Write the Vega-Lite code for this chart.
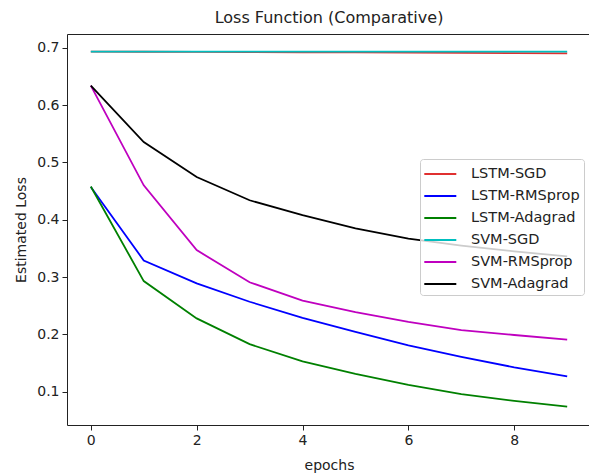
{
  "$schema": "https://vega.github.io/schema/vega-lite/v6.json",
  "width": 524,
  "height": 391,
  "autosize": {"type": "none"},
  "padding": {"left": 67, "top": 34, "right": -2, "bottom": 49},
  "background": "white",
  "config": {
    "font": "DejaVu Sans",
    "view": {"stroke": "#222222", "strokeWidth": 1},
    "axis": {
      "grid": false,
      "domain": false,
      "tickColor": "#222222",
      "labelColor": "#222222",
      "titleColor": "#222222",
      "labelFontSize": 14,
      "titleFontSize": 14,
      "titleFontWeight": "normal",
      "tickSize": 5,
      "labelPadding": 3
    }
  },
  "title": {
    "text": "Loss Function (Comparative)",
    "fontSize": 16,
    "fontWeight": "normal",
    "color": "#222222",
    "offset": 8,
    "anchor": "middle"
  },
  "data": {
    "values": [
      {"model": "LSTM-SGD", "epoch": 0, "loss": 0.6932},
      {"model": "LSTM-SGD", "epoch": 1, "loss": 0.6930},
      {"model": "LSTM-SGD", "epoch": 2, "loss": 0.6928},
      {"model": "LSTM-SGD", "epoch": 3, "loss": 0.6925},
      {"model": "LSTM-SGD", "epoch": 4, "loss": 0.6922},
      {"model": "LSTM-SGD", "epoch": 5, "loss": 0.6918},
      {"model": "LSTM-SGD", "epoch": 6, "loss": 0.6914},
      {"model": "LSTM-SGD", "epoch": 7, "loss": 0.6910},
      {"model": "LSTM-SGD", "epoch": 8, "loss": 0.6906},
      {"model": "LSTM-SGD", "epoch": 9, "loss": 0.6901},
      {"model": "LSTM-RMSprop", "epoch": 0, "loss": 0.457},
      {"model": "LSTM-RMSprop", "epoch": 1, "loss": 0.329},
      {"model": "LSTM-RMSprop", "epoch": 2, "loss": 0.289},
      {"model": "LSTM-RMSprop", "epoch": 3, "loss": 0.257},
      {"model": "LSTM-RMSprop", "epoch": 4, "loss": 0.229},
      {"model": "LSTM-RMSprop", "epoch": 5, "loss": 0.2045},
      {"model": "LSTM-RMSprop", "epoch": 6, "loss": 0.181},
      {"model": "LSTM-RMSprop", "epoch": 7, "loss": 0.161},
      {"model": "LSTM-RMSprop", "epoch": 8, "loss": 0.1425},
      {"model": "LSTM-RMSprop", "epoch": 9, "loss": 0.127},
      {"model": "LSTM-Adagrad", "epoch": 0, "loss": 0.458},
      {"model": "LSTM-Adagrad", "epoch": 1, "loss": 0.293},
      {"model": "LSTM-Adagrad", "epoch": 2, "loss": 0.228},
      {"model": "LSTM-Adagrad", "epoch": 3, "loss": 0.183},
      {"model": "LSTM-Adagrad", "epoch": 4, "loss": 0.153},
      {"model": "LSTM-Adagrad", "epoch": 5, "loss": 0.131},
      {"model": "LSTM-Adagrad", "epoch": 6, "loss": 0.112},
      {"model": "LSTM-Adagrad", "epoch": 7, "loss": 0.096},
      {"model": "LSTM-Adagrad", "epoch": 8, "loss": 0.084},
      {"model": "LSTM-Adagrad", "epoch": 9, "loss": 0.074},
      {"model": "SVM-SGD", "epoch": 0, "loss": 0.6932},
      {"model": "SVM-SGD", "epoch": 1, "loss": 0.6932},
      {"model": "SVM-SGD", "epoch": 2, "loss": 0.6932},
      {"model": "SVM-SGD", "epoch": 3, "loss": 0.6932},
      {"model": "SVM-SGD", "epoch": 4, "loss": 0.6932},
      {"model": "SVM-SGD", "epoch": 5, "loss": 0.6931},
      {"model": "SVM-SGD", "epoch": 6, "loss": 0.6931},
      {"model": "SVM-SGD", "epoch": 7, "loss": 0.6931},
      {"model": "SVM-SGD", "epoch": 8, "loss": 0.6931},
      {"model": "SVM-SGD", "epoch": 9, "loss": 0.6931},
      {"model": "SVM-RMSprop", "epoch": 0, "loss": 0.634},
      {"model": "SVM-RMSprop", "epoch": 1, "loss": 0.460},
      {"model": "SVM-RMSprop", "epoch": 2, "loss": 0.347},
      {"model": "SVM-RMSprop", "epoch": 3, "loss": 0.291},
      {"model": "SVM-RMSprop", "epoch": 4, "loss": 0.259},
      {"model": "SVM-RMSprop", "epoch": 5, "loss": 0.239},
      {"model": "SVM-RMSprop", "epoch": 6, "loss": 0.222},
      {"model": "SVM-RMSprop", "epoch": 7, "loss": 0.2075},
      {"model": "SVM-RMSprop", "epoch": 8, "loss": 0.199},
      {"model": "SVM-RMSprop", "epoch": 9, "loss": 0.191},
      {"model": "SVM-Adagrad", "epoch": 0, "loss": 0.634},
      {"model": "SVM-Adagrad", "epoch": 1, "loss": 0.5355},
      {"model": "SVM-Adagrad", "epoch": 2, "loss": 0.4745},
      {"model": "SVM-Adagrad", "epoch": 3, "loss": 0.434},
      {"model": "SVM-Adagrad", "epoch": 4, "loss": 0.408},
      {"model": "SVM-Adagrad", "epoch": 5, "loss": 0.385},
      {"model": "SVM-Adagrad", "epoch": 6, "loss": 0.367},
      {"model": "SVM-Adagrad", "epoch": 7, "loss": 0.355},
      {"model": "SVM-Adagrad", "epoch": 8, "loss": 0.345},
      {"model": "SVM-Adagrad", "epoch": 9, "loss": 0.336}
    ]
  },
  "mark": {"type": "line", "strokeWidth": 1.8},
  "encoding": {
    "x": {
      "field": "epoch",
      "type": "quantitative",
      "scale": {"domain": [-0.45, 9.45], "nice": false, "zero": false},
      "axis": {"values": [0, 2, 4, 6, 8], "title": "epochs", "titlePadding": 11, "labelFlush": false}
    },
    "y": {
      "field": "loss",
      "type": "quantitative",
      "scale": {"domain": [0.042, 0.724], "nice": false, "zero": false},
      "axis": {"values": [0.1, 0.2, 0.3, 0.4, 0.5, 0.6, 0.7], "format": ".1f", "title": "Estimated Loss", "titlePadding": 8, "labelFlush": false}
    },
    "color": {
      "field": "model",
      "type": "nominal",
      "scale": {
        "domain": ["LSTM-SGD", "LSTM-RMSprop", "LSTM-Adagrad", "SVM-SGD", "SVM-RMSprop", "SVM-Adagrad"],
        "range": ["#e03030", "#0000ff", "#008000", "#00bfbf", "#bf00bf", "#000000"]
      },
      "legend": {
        "orient": "none",
        "legendX": 353,
        "legendY": 125,
        "title": null,
        "symbolType": "M-1.07,0H2.13",
        "symbolSize": 400,
        "symbolStrokeWidth": 2,
        "labelFontSize": 14.5,
        "labelColor": "#222222",
        "rowPadding": 4,
        "padding": 4,
        "fillColor": "rgba(255,255,255,0.8)",
        "strokeColor": "#cccccc",
        "cornerRadius": 3,
        "labelOffset": 25
      }
    }
  }
}
